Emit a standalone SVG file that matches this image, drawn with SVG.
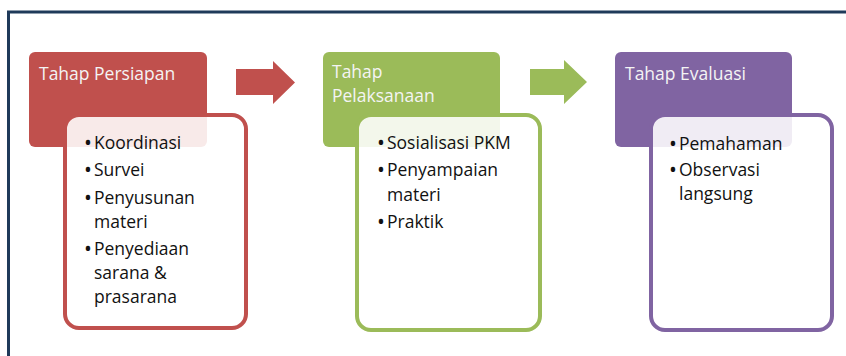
<svg xmlns="http://www.w3.org/2000/svg" width="846" height="356" viewBox="0 0 846 356">
  <style>
    .hdr { stroke: none; }
    .box { fill: #ffffff; fill-opacity: 0.88; stroke-width: 4; }
    .ttl { font-family: "Open Sans", "DejaVu Sans", sans-serif; font-size: 17.5px; fill: #f4f4f4; }
    .itm { font-family: "Open Sans", "DejaVu Sans", sans-serif; font-size: 17.5px; fill: #111111; }
    .bul { font-family: "Open Sans", "DejaVu Sans", sans-serif; font-size: 21px; fill: #111111; text-anchor: middle; }
    .frame { fill: none; stroke: #1f3a5a; stroke-width: 3; }
  </style>
  <rect x="0" y="0" width="846" height="356" fill="#ffffff"/>
  <rect class="frame" x="8.5" y="12" width="860" height="380"/>

  <g id="connectors">
    <polygon fill="#c0504d" points="236,69 273,69 273,61 295,82.5 273,104 273,95 236,95"/>
    <polygon fill="#9bbb59" points="530,69 564,69 564,60 587,82 564,104 564,95 530,95"/>
  </g>

  <g id="tahap-persiapan">
    <rect class="hdr" x="29" y="52" width="178" height="95" rx="6" fill="#c0504d"/>
    <text class="ttl" x="39" y="80">Tahap Persiapan</text>
    <rect class="box" x="65" y="115" width="181" height="213" rx="14" stroke="#c0504d"/>
    <text class="bul" x="88" y="150">•</text>
    <text class="itm" x="94" y="149">Koordinasi</text>
    <text class="bul" x="88" y="177">•</text>
    <text class="itm" x="94" y="176">Survei</text>
    <text class="bul" x="88" y="205">•</text>
    <text class="itm" x="94" y="204">Penyusunan</text>
    <text class="itm" x="94" y="228">materi</text>
    <text class="bul" x="88" y="256">•</text>
    <text class="itm" x="94" y="255">Penyediaan</text>
    <text class="itm" x="94" y="279">sarana &amp;</text>
    <text class="itm" x="94" y="303">prasarana</text>
  </g>

  <g id="tahap-pelaksanaan">
    <rect class="hdr" x="323" y="52" width="177" height="95" rx="6" fill="#9bbb59"/>
    <text class="ttl" x="332" y="78">Tahap</text>
    <text class="ttl" x="332" y="102">Pelaksanaan</text>
    <rect class="box" x="357" y="115" width="183" height="215" rx="14" stroke="#9bbb59"/>
    <text class="bul" x="381" y="150">•</text>
    <text class="itm" x="387" y="149">Sosialisasi PKM</text>
    <text class="bul" x="381" y="177">•</text>
    <text class="itm" x="387" y="176">Penyampaian</text>
    <text class="itm" x="387" y="201">materi</text>
    <text class="bul" x="381" y="229">•</text>
    <text class="itm" x="387" y="228">Praktik</text>
  </g>

  <g id="tahap-evaluasi">
    <rect class="hdr" x="615" y="52" width="177" height="95" rx="6" fill="#8064a2"/>
    <text class="ttl" x="625" y="80">Tahap Evaluasi</text>
    <rect class="box" x="651" y="115" width="181" height="215" rx="14" stroke="#8064a2"/>
    <text class="bul" x="673" y="151">•</text>
    <text class="itm" x="679" y="150">Pemahaman</text>
    <text class="bul" x="673" y="177">•</text>
    <text class="itm" x="679" y="176">Observasi</text>
    <text class="itm" x="679" y="200">langsung</text>
  </g>
</svg>
